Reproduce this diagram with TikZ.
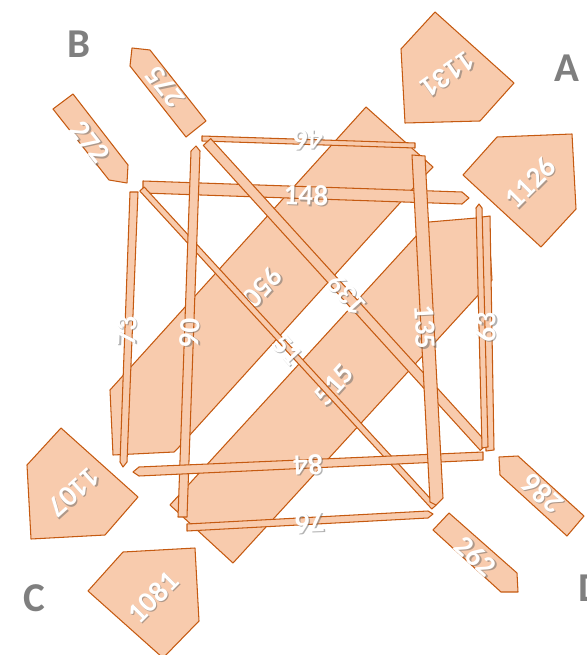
\documentclass[tikz,border=0pt]{standalone}
\usepackage{fontspec}
\setmainfont{Carlito}
\usetikzlibrary{calc}
\definecolor{peach}{HTML}{F8CBAD}
\definecolor{rust}{HTML}{C55A11}
\definecolor{letgray}{HTML}{7F7F7F}
\newcommand{\numlab}[4]{%
  \node[numsh,rotate=#3] at ($(#2)+(1.3,1.3)$) {#4};
  \node[num,rotate=#3] (#1) at (#2) {#4};}

\begin{document}
\begin{tikzpicture}[x=0.03cm, y=-0.03cm,
  piece/.style={draw=rust, fill=peach, line width=0.9pt, line join=round},
  num/.style={text=white, font=\bfseries\fontsize{25}{25}\selectfont, inner sep=0pt},
  numsh/.style={text=black!60, opacity=0.5, font=\bfseries\fontsize{25}{25}\selectfont, inner sep=0pt},
  corner/.style={text=letgray, font=\bfseries\fontsize{35}{35}\selectfont, inner sep=0pt}]
\useasboundingbox (0,0) rectangle (586,655);

% corner letters
\node[corner] (cB) at (79,44) {B};
\node[corner] (cA) at (567,68) {A};
\node[corner] (cC) at (34,598) {C};
\node[corner, anchor=west] (cD) at (578,588) {D};

% outer pieces
\draw[piece] (435,12) -- (401,49) -- (405,123) -- (480,121) -- (514,83) -- cycle;
\numlab{l1131}{448,74}{215}{1131}
\draw[piece] (463,175) -- (497,137) -- (572,134) -- (576,209) -- (541,247) -- cycle;
\numlab{l1126}{530,183}{45}{1126}
\draw[piece] (61,428) -- (27,465) -- (31,539) -- (105,535) -- (138,497) -- cycle;
\numlab{l1107}{74,492}{222}{1107}
\draw[piece] (88,591) -- (123,552) -- (195,548) -- (199,621) -- (163,658) -- cycle;
\numlab{l1081}{153,597}{45}{1081}
\draw[piece] (53,109) -- (73,94) -- (128,165) -- (127,183) -- (109,180) -- cycle;
\numlab{l272}{90,142}{-52}{272}
\draw[piece] (132,48) -- (150,50) -- (206,121) -- (186,137) -- (130,66) -- cycle;
\numlab{l275}{165,87}{128}{275}
\draw[piece] (499,457) -- (518,456) -- (584,516) -- (567,536) -- (500,475) -- cycle;
\numlab{l286}{542,494}{137.5}{286}
\draw[piece] (433,530) -- (449,513) -- (517,573) -- (518,592) -- (501,592) -- cycle;
\numlab{l262}{476,556}{-42.5}{262}

% the two wide bands
\draw[piece] (366,107) -- (433,167) -- (427,173) -- (179,447) -- (174,452) -- (113,455) -- (110,390) -- cycle;
\numlab{l950}{263,287}{228}{950}
\draw[piece] (170,505) -- (429,222) -- (488,217) -- (492,280) -- (233,563) -- cycle;
\numlab{l515}{334,385}{48}{515}
\draw[piece] (482,217) -- (490,216) -- (494,450) -- (486,451) -- cycle;

% bars
\draw[piece] (202,136) -- (415,143) -- (415,148) -- (202,141) -- cycle;
\numlab{l46}{308,140}{178}{46}
\draw[piece] (143,181) -- (462,192) -- (469,198) -- (462,204) -- (143,193) -- cycle;
\numlab{l148}{306,195}{-2}{148}
\draw[piece] (210.7,138.6) -- (487.7,443.6) -- (480.3,450.4) -- (203.3,145.4) -- cycle;
\numlab{l139}{347,295}{132}{139}
\draw[piece] (144.2,187) -- (436.2,505) -- (431.8,509) -- (139.8,191) -- cycle;
\numlab{l51}{287,350}{-47.5}{51}
\draw[piece] (130,192) -- (138,192) -- (127,462) -- (123,467) -- (120,462) -- cycle;
\numlab{l73}{127,331}{88}{73}
\draw[piece] (191,151) -- (196,146) -- (200,151) -- (187,517) -- (178,517) -- cycle;
\numlab{l90}{190,333}{88}{90}
\draw[piece] (133,472) -- (139,467) -- (483,452) -- (483,460) -- (139,476) -- cycle;
\numlab{l84}{308,465}{182.5}{84}
\draw[piece] (187,524) -- (428,511) -- (433,514) -- (428,518) -- (187,531) -- cycle;
\numlab{l76}{310,523}{182}{76}
\draw[piece] (412,155) -- (425,156) -- (443,498) -- (436,505) -- (430,502) -- cycle;
\numlab{l135}{425,327}{-87}{135}
\draw[piece] (476,208) -- (479,204) -- (482,208) -- (488,447) -- (482,448) -- cycle;
\numlab{l63}{486,327}{88}{63}
\end{tikzpicture}
\end{document}
